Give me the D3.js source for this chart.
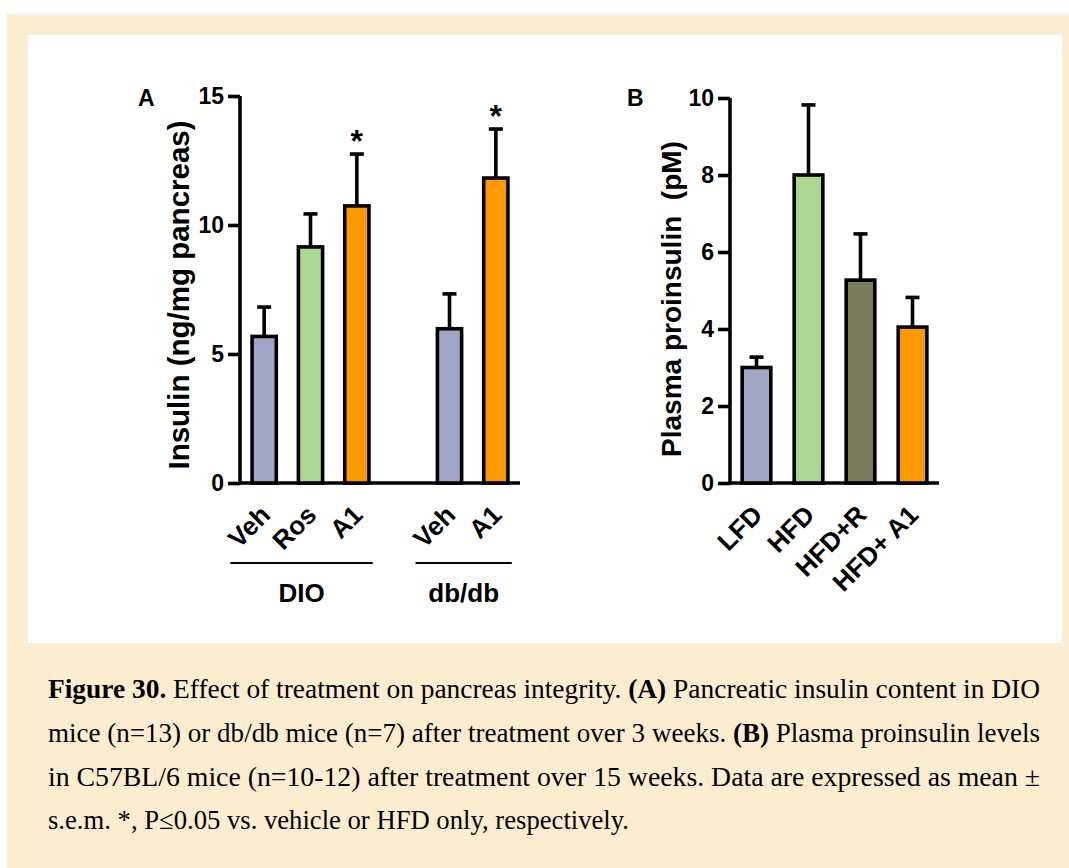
<!DOCTYPE html>
<html><head><meta charset="utf-8">
<script src="https://cdn.jsdelivr.net/npm/d3@7"></script>
<style>html,body{margin:0;padding:0;background:#fff;}svg{display:block;}</style>
</head><body>
<script>
// Panel A data
const catsA = ["Veh","Ros","A1","","Veh","A1"];
const keysA = ["dioVeh","dioRos","dioA1","gap","dbVeh","dbA1"];
const meanA = [5.68, 9.15, 10.74, null, 5.98, 11.82];
const semA  = [1.14, 1.28, 2.01, null, 1.35, 1.90];
const colorA = ["#a1a5c6","#acd792","#ff9900",null,"#a1a5c6","#ff9900"];
const starA = [false,false,true,false,false,true];
const ticksA = [0,5,10,15];
const groupsA = [{name:"DIO", from:0, to:2},{name:"db/db", from:4, to:5}];
// Panel B data
const catsB = ["LFD","HFD","HFD+R","HFD+ A1"];
const meanB = [3.0, 8.0, 5.27, 4.05];
const semB  = [0.27, 1.82, 1.2, 0.77];
const colorB = ["#a1a5c6","#acd792","#7a7b5b","#ff9900"];
const ticksB = [0,2,4,6,8,10];

const captionLines = [
 [{b:true,t:"Figure 30."},{t:" Effect of treatment on pancreas integrity. "},{b:true,t:"(A)"},{t:" Pancreatic insulin content in DIO"}],
 [{t:"mice (n=13) or db/db mice (n=7) after treatment over 3 weeks. "},{b:true,t:"(B)"},{t:" Plasma proinsulin levels"}],
 [{t:"in C57BL/6 mice (n=10-12) after treatment over 15 weeks. Data are expressed as mean ±"}],
 [{t:"s.e.m. *, P≤0.05 vs. vehicle or HFD only, respectively."}]
];
const captionWidths=[992,992,992,581];

const W=1069,H=868;
const svg=d3.select("body").append("svg").attr("width",W).attr("height",H);
svg.append("rect").attr("x",7).attr("y",14).attr("width",W-7).attr("height",H-14).attr("fill","#fdedd0");
svg.append("rect").attr("x",28).attr("y",35).attr("width",1034).attr("height",608).attr("fill","#fff");

const font="'Liberation Sans', Arial, sans-serif";
const sw=3.6;

function panel(opts){
  const g=svg.append("g");
  const y=d3.scaleLinear().domain(opts.domain).range([opts.y0,opts.y1]);
  const x=d3.scaleBand().domain(opts.keys).range([opts.xl,opts.xr]).paddingInner(opts.pad).paddingOuter(opts.padOut);
  const ax=d3.axisLeft(y).tickValues(opts.ticks).tickSize(12).tickPadding(4).tickFormat(d3.format("d"));
  const ag=g.append("g").attr("transform",`translate(${opts.xAxis},0)`).call(ax);
  ag.select(".domain").attr("stroke","#000").attr("stroke-width",sw).attr("d",`M0,${opts.y0+sw/2}V${y(opts.domain[1])}`);
  ag.selectAll(".tick line").attr("stroke","#000").attr("stroke-width",sw);
  ag.selectAll(".tick text").attr("font-family",font).attr("font-weight","bold").attr("font-size",23).attr("fill","#000");
  g.append("line").attr("x1",opts.xAxis).attr("x2",opts.xEnd).attr("y1",y(0)).attr("y2",y(0)).attr("stroke","#000").attr("stroke-width",sw);
  const data=opts.keys.map((k,i)=>({k,i,m:opts.mean[i],s:opts.sem[i],c:opts.color[i],lab:opts.cats[i],star:opts.star?opts.star[i]:false})).filter(d=>d.m!=null);
  const eb=g.selectAll(".eb").data(data).enter().append("g");
  eb.append("line").attr("x1",d=>x(d.k)+x.bandwidth()/2).attr("x2",d=>x(d.k)+x.bandwidth()/2)
    .attr("y1",d=>y(d.m)).attr("y2",d=>y(d.m+d.s)).attr("stroke","#000").attr("stroke-width",sw);
  eb.append("line").attr("x1",d=>x(d.k)+x.bandwidth()/2-7).attr("x2",d=>x(d.k)+x.bandwidth()/2+7)
    .attr("y1",d=>y(d.m+d.s)).attr("y2",d=>y(d.m+d.s)).attr("stroke","#000").attr("stroke-width",sw);
  g.selectAll(".bar").data(data).enter().append("rect")
    .attr("x",d=>x(d.k)+sw/2).attr("width",x.bandwidth()-sw)
    .attr("y",d=>y(d.m)).attr("height",d=>y(0)-y(d.m))
    .attr("fill",d=>d.c).attr("stroke","#000").attr("stroke-width",sw);
  g.selectAll(".star").data(data.filter(d=>d.star)).enter().append("text")
    .attr("x",d=>x(d.k)+x.bandwidth()/2).attr("y",d=>y(d.m+d.s)-2)
    .attr("text-anchor","middle").attr("font-family",font).attr("font-size",32).attr("font-weight","bold").text("*");
  g.selectAll(".xl").data(data).enter().append("text")
    .attr("transform",d=>`translate(${x(d.k)+x.bandwidth()/2+1},${y(0)+27}) rotate(-45)`)
    .attr("text-anchor","end").attr("dy","0.35em")
    .attr("font-family",font).attr("font-weight","bold").attr("font-size",26).text(d=>d.lab);
  g.append("text").attr("transform",`translate(${opts.titleX},${opts.titleY}) rotate(-90)`)
    .attr("text-anchor","middle").attr("font-family",font).attr("font-weight","bold").attr("font-size",opts.titleSize)
    .attr("xml:space","preserve").text(opts.title);
  g.append("text").attr("x",opts.letterX).attr("y",opts.letterY).attr("font-family",font).attr("font-weight","bold").attr("font-size",23).text(opts.letter);
  return {x,y,g};
}

const pA=panel({domain:[0,15],y0:483,y1:96,keys:keysA,cats:catsA,mean:meanA,sem:semA,color:colorA,star:starA,ticks:ticksA,
  xl:241,xr:519,pad:0.4,padOut:0.2,xAxis:240,xEnd:520,title:"Insulin (ng/mg pancreas)",titleX:189,titleY:295,titleSize:29.5,letter:"A",letterX:138,letterY:106});
groupsA.forEach(gr=>{
  const x=pA.x;
  const a=x(keysA[gr.from])-20, b=x(keysA[gr.to])+x.bandwidth()+2;
  pA.g.append("line").attr("x1",a).attr("x2",b).attr("y1",563).attr("y2",563).attr("stroke","#000").attr("stroke-width",2.2);
  pA.g.append("text").attr("x",(a+b)/2).attr("y",602).attr("text-anchor","middle").attr("font-family",font).attr("font-weight","bold").attr("font-size",26).text(gr.name);
});

panel({domain:[0,10],y0:483,y1:98,keys:catsB,cats:catsB,mean:meanB,sem:semB,color:colorB,ticks:ticksB,
  xl:731,xr:938,pad:0.38,padOut:0.18,xAxis:730,xEnd:939,title:"Plasma proinsulin  (pM)",titleX:681,titleY:299,titleSize:28,letter:"B",letterX:627,letterY:106});

const serif="'Liberation Serif','Times New Roman',serif";
const lineY=[698,742,786,829];
captionLines.forEach((ln,i)=>{
  const t=svg.append("text").attr("x",48).attr("y",lineY[i]).attr("font-family",serif).attr("font-size",27).attr("fill","#000").attr("xml:space","preserve")
    .attr("textLength",captionWidths[i]).attr("lengthAdjust","spacingAndGlyphs");
  ln.forEach(s=>t.append("tspan").attr("font-weight",s.b?"bold":"normal").text(s.t));
});
</script>
</body></html>
